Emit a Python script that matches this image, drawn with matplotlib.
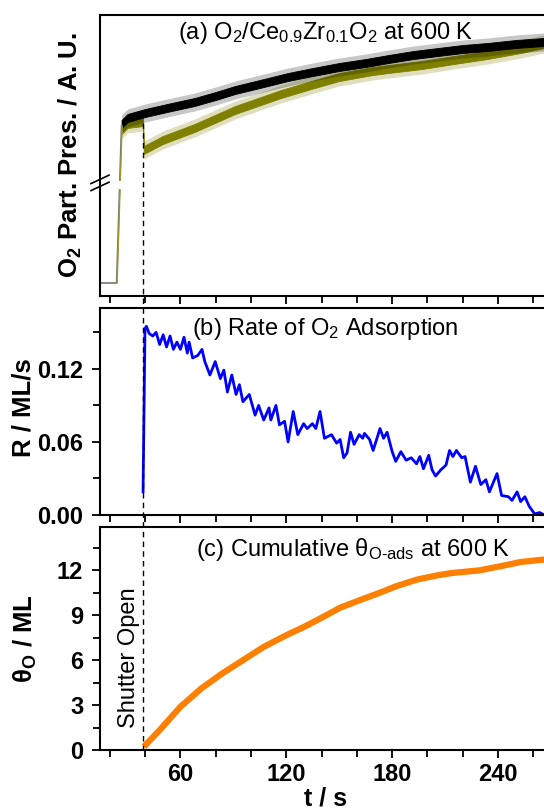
import numpy as np
import matplotlib
matplotlib.use("Agg")
import matplotlib.pyplot as plt
from matplotlib.lines import Line2D
from matplotlib.ticker import MultipleLocator
import matplotlib.transforms as mtransforms

plt.rcParams['font.family'] = 'Liberation Sans'
plt.rcParams['mathtext.fontset'] = 'custom'
plt.rcParams['mathtext.rm'] = 'Liberation Sans'
plt.rcParams['mathtext.it'] = 'Liberation Sans:italic'
plt.rcParams['mathtext.bf'] = 'Liberation Sans:bold'

# (a) O2 partial pressure, arbitrary units
base_t = [14.4, 23.8, 25.46]
base_y = [13, 13, 106]
rise_t = [25.64, 26.6]
rise_y = [116, 170]

t_black = [26.6, 30, 40, 55, 68, 80, 91, 105, 121, 135, 150, 165, 178, 192,
           206, 220, 234, 250, 266, 270]
y_black = [172, 178, 183, 189, 194, 200, 206, 212, 219, 224, 229, 233, 237,
           241, 244, 247, 249, 252, 254, 255]

t_olive = [26.6, 30, 38.8, 39.2, 50, 68, 91, 117, 136, 150, 169, 178, 197,
           215, 234, 253, 266, 270]
y_olive = [166, 172, 174, 146, 156, 168, 186, 202, 212, 219, 225, 227, 231,
           236, 241, 247, 252, 253]

# (b) rate of O2 adsorption, ML/s
t_rate = [38.8, 39.9, 40.7, 42.3, 44.3, 46.2, 48.2, 50.2, 52.1, 54.1, 56.0,
          58.0, 60.0, 62.0, 63.9, 64.9, 66.9, 69.8, 72.2, 73.8, 76.7, 79.7,
          82.6, 84.6, 86.6, 89.1, 91.5, 93.4, 95.4, 99.0, 102.3, 104.3,
          107.2, 110.2, 111.2, 114.1, 116.1, 119.0, 121.0, 123.9, 126.5,
          129.8, 131.8, 134.8, 136.7, 139.1, 141.6, 145.6, 148.5, 150.5,
          152.5, 154.4, 156.4, 158.4, 161.3, 163.3, 164.3, 167.2, 169.2,
          173.1, 175.1, 177.1, 180.0, 182.0, 184.9, 187.9, 190.8, 193.8,
          195.7, 197.7, 200.7, 202.6, 204.6, 207.5, 210.5, 212.5, 214.4,
          216.4, 219.4, 221.3, 224.3, 227.2, 230.2, 233.1, 235.1, 239.4,
          242.0, 245.9, 247.9, 250.8, 252.8, 255.2, 257.7, 260.7, 263.6,
          266.2, 270.0]
r_rate = [0.019, 0.153, 0.155, 0.149, 0.147, 0.150, 0.140, 0.148, 0.138,
          0.147, 0.136, 0.142, 0.136, 0.146, 0.133, 0.142, 0.129, 0.131,
          0.136, 0.126, 0.115, 0.126, 0.112, 0.119, 0.101, 0.115, 0.099,
          0.107, 0.093, 0.099, 0.082, 0.090, 0.078, 0.088, 0.078, 0.090,
          0.074, 0.077, 0.060, 0.085, 0.066, 0.075, 0.071, 0.075, 0.071,
          0.085, 0.063, 0.066, 0.059, 0.062, 0.047, 0.051, 0.068, 0.058,
          0.066, 0.063, 0.067, 0.062, 0.053, 0.071, 0.063, 0.068, 0.052,
          0.044, 0.052, 0.045, 0.047, 0.042, 0.048, 0.038, 0.049, 0.037,
          0.032, 0.037, 0.041, 0.053, 0.048, 0.053, 0.047, 0.048, 0.027,
          0.040, 0.025, 0.029, 0.019, 0.034, 0.016, 0.015, 0.012, 0.019,
          0.011, 0.015, 0.007, 0.001, 0.002, 0.000, 0.001]

# (c) cumulative coverage, ML
t_cov = [39.3, 48.2, 60.0, 71.8, 83.6, 95.4, 107.2, 120.0, 130.8, 142.6,
         150.5, 162.3, 174.1, 182.0, 193.8, 205.6, 213.4, 229.2, 241.0,
         252.8, 264.6, 270.0]
theta = [0.22, 1.33, 2.89, 4.11, 5.11, 6.0, 6.89, 7.67, 8.27, 9.0, 9.51,
         10.04, 10.56, 10.93, 11.38, 11.67, 11.82, 12.0, 12.27, 12.56,
         12.71, 12.75]

t_shutter = 39.0
band = 4
spike = 9

W, H = 544, 809
fig = plt.figure(figsize=(W / 100, H / 100), dpi=100)


def px_axes(left, top, right, bottom):
    return fig.add_axes([left / W, (H - bottom) / H, (right - left) / W,
                         (bottom - top) / H])


ax_a = px_axes(100, 15, 551, 296)
ax_b = px_axes(100, 308, 551, 515)
ax_c = px_axes(100, 527, 551, 750)

for ax in (ax_a, ax_b, ax_c):
    ax.set_xlim(14.4, 270)
    for s in ax.spines.values():
        s.set_linewidth(1.5)
    ax.xaxis.set_major_locator(MultipleLocator(60))
    ax.xaxis.set_minor_locator(MultipleLocator(20))
    ax.tick_params(which='both', direction='out', width=1.3, top=False,
                   right=False, labelsize=17)
    ax.tick_params(which='major', length=6)
    ax.tick_params(which='minor', length=5)
    ax.tick_params(axis='y', pad=6)

# panel a
ax_a.set_ylim(0, 281)
ax_a.plot(base_t, base_y, color='#777777', lw=1.2)
ax_a.plot(rise_t, rise_y, color='#777777', lw=1.2)
ax_a.plot([x + 0.3 for x in base_t[1:]], base_y[1:], color='#9a9a30', lw=1.0)
ax_a.plot([x + 0.3 for x in rise_t], rise_y, color='#9a9a30', lw=1.0)
yo = np.array(y_olive)
yb = np.array(y_black)
ax_a.fill_between(t_olive, yo - spike, yo + spike, color='#808000',
                  alpha=0.25, lw=0)
ax_a.fill_between(t_olive, yo - band, yo + band, color='#808000', lw=0.6)
ax_a.fill_between(t_black, yb - spike, yb + spike, color='black',
                  alpha=0.22, lw=0)
ax_a.fill_between(t_black, yb - band, yb + band, color='black', lw=0.6)
ax_a.set_yticks([])
ax_a.tick_params(axis='x', labelbottom=False)
ax_a.set_ylabel('O$_\\mathregular{2}$ Part. Pres. / A. U.', fontsize=18.5,
                fontweight='bold')
ax_a.yaxis.set_label_coords(-0.035, 0.5)
ax_a.text(0.5, 0.935, r'(a) O$_2$/Ce$_{0.9}$Zr$_{0.1}$O$_2$ at 600 K',
          transform=ax_a.transAxes, ha='center', va='center', fontsize=17)
# axis break marks
for dy in (0.0, 0.025):
    ax_a.plot([-0.02, 0.02], [0.375 + dy, 0.405 + dy], transform=ax_a.transAxes,
              color='black', lw=1.2, clip_on=False)

# panel b
ax_b.plot(t_rate, r_rate, color='#0000ff', lw=2)
ax_b.set_ylim(0, 0.17)
ax_b.yaxis.set_major_locator(MultipleLocator(0.06))
ax_b.yaxis.set_minor_locator(MultipleLocator(0.03))
ax_b.yaxis.set_major_formatter(plt.FormatStrFormatter('%.2f'))
ax_b.tick_params(axis='x', labelbottom=False)
ax_b.set_ylabel('R / ML/s', fontsize=18.5, fontweight='bold')
ax_b.yaxis.set_label_coords(-0.142, 0.52)
ax_b.text(0.5, 0.9, r'(b) Rate of O$_2$ Adsorption', transform=ax_b.transAxes,
          ha='center', va='center', fontsize=17)

# panel c
ax_c.plot(t_cov, theta, color='#ff8000', lw=4.5, solid_capstyle='butt')
ax_c.set_ylim(0, 14.9)
ax_c.yaxis.set_major_locator(MultipleLocator(3))
ax_c.yaxis.set_minor_locator(MultipleLocator(1.5))
ax_c.set_ylabel('θ$_\\mathregular{O}$ / ML', fontsize=18.5, fontweight='bold')
ax_c.yaxis.set_label_coords(-0.135, 0.5)
ax_c.set_xlabel('t / s', fontsize=18, fontweight='bold', labelpad=0)
ax_c.text(0.56, 0.9, r'(c) Cumulative θ$_{\mathregular{O\text{-}ads}}$ at 600 K',
          transform=ax_c.transAxes, ha='center', va='center', fontsize=17)
ax_c.text(t_shutter - 2, 0.1, 'Shutter Open', rotation=90, ha='right',
          va='bottom', fontsize=17, transform=mtransforms.blended_transform_factory(
              ax_c.transData, ax_c.transAxes))

for ax in (ax_a, ax_b, ax_c):
    for lab in ax.get_xticklabels() + ax.get_yticklabels():
        lab.set_fontweight('bold')

# shutter line through all panels
tr = mtransforms.blended_transform_factory(ax_c.transData, fig.transFigure)
fig.add_artist(Line2D([t_shutter, t_shutter], [(H - 123) / H, (H - 750) / H],
                      transform=tr, color='black', lw=1.0, ls=(0, (4, 3))))

fig.savefig('out.png', dpi=100)
